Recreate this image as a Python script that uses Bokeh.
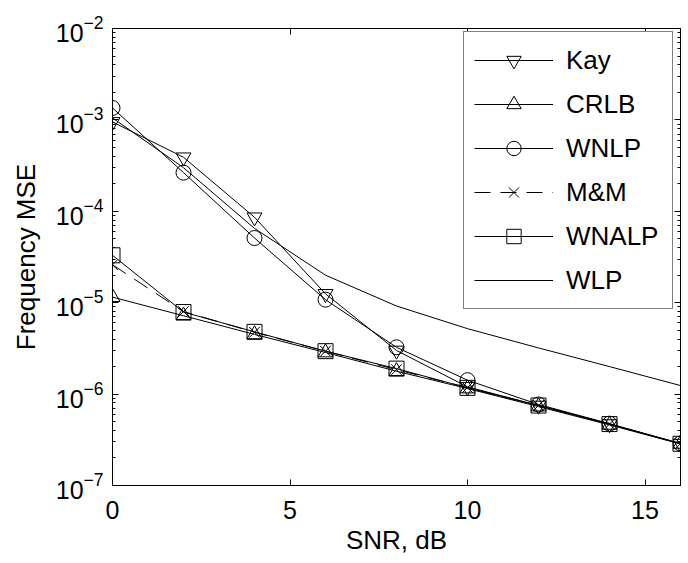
import numpy as np
from bokeh.plotting import figure
from bokeh.models import (Range1d, LinearAxis, LogAxis, Legend, LegendItem,
                          FixedTicker, LogTicker, CustomJSTickFormatter)
from bokeh.embed import file_html
from bokeh.resources import INLINE

# ---- data ----
snr = [0, 2, 4, 6, 8, 10, 12, 14, 16]
kay = [9.5e-4, 3.9e-4, 8.6e-5, 1.25e-5, 3.0e-6, 1.2e-6, 7.5e-7, 4.7e-7, 2.87e-7]
crlb = [1.15e-5, 7.2e-6, 4.5e-6, 2.85e-6, 1.78e-6, 1.15e-6, 7.3e-7, 4.6e-7, 2.85e-7]
wnlp = [1.35e-3, 2.65e-4, 5.1e-5, 1.08e-5, 3.25e-6, 1.42e-6, 7.7e-7, 4.75e-7, 2.88e-7]
mm = [2.6e-5, 8.0e-6, 4.75e-6, 2.95e-6, 1.85e-6, 1.18e-6, 7.5e-7, 4.7e-7, 2.87e-7]
wnalp = [3.3e-5, 7.9e-6, 4.8e-6, 2.95e-6, 1.9e-6, 1.17e-6, 7.5e-7, 4.7e-7, 2.86e-7]
wlp = [1.05e-3, 3.0e-4, 6.5e-5, 2.0e-5, 9.2e-6, 5.2e-6, 3.2e-6, 2.0e-6, 1.24e-6]

series_names = ["Kay", "CRLB", "WNLP", "M&M", "WNALP", "WLP"]
series_values = [kay, crlb, wnlp, mm, wnalp, wlp]
series_markers = ["inverted_triangle", "triangle", "circle", "x", "square", None]
series_dash = ["solid", "solid", "solid", "16 10", "solid", "solid"]

x_ticks = [0, 5, 10, 15]
x_limits = (0, 16)
y_limits = (1e-7, 1e-2)

FONT = "Liberation Sans"
FS = "25px"
FS_LABEL = "26px"

p = figure(frame_width=568, frame_height=457,
           x_range=Range1d(*x_limits), y_range=Range1d(*y_limits),
           y_axis_type="log", output_backend="svg", toolbar_location=None,
           min_border_left=112, min_border_top=28, min_border_right=8,
           min_border_bottom=70)
p.outline_line_color = "black"
p.grid.visible = False

blank = CustomJSTickFormatter(code="return ''")

def style_axis(ax, labels=True):
    ax.axis_line_color = "black"
    ax.axis_line_width = 1
    ax.major_tick_in = 6
    ax.major_tick_out = 0
    ax.minor_tick_in = 3
    ax.minor_tick_out = 0
    ax.major_tick_line_color = "black"
    ax.minor_tick_line_color = "black"
    ax.major_label_text_font = FONT
    ax.major_label_text_font_size = FS
    ax.major_label_text_color = "black"
    ax.axis_label_text_font = FONT
    ax.axis_label_text_font_size = FS_LABEL
    ax.axis_label_text_font_style = "normal"
    ax.axis_label_text_color = "black"
    if not labels:
        ax.formatter = blank
        ax.major_label_standoff = 0

xa = p.xaxis[0]
xa.ticker = FixedTicker(ticks=x_ticks)
style_axis(xa)
xa.minor_tick_in = 0
xa.axis_label = "SNR, dB"
xa.major_label_standoff = 15
xa.axis_label_standoff = 3

ya = p.yaxis[0]
ya.ticker = LogTicker(num_minor_ticks=10)
style_axis(ya)
ya.axis_label = "Frequency MSE"
ya.major_label_standoff = 9
ya.axis_label_standoff = 12

top = LinearAxis(ticker=FixedTicker(ticks=x_ticks))
style_axis(top, labels=False)
top.minor_tick_in = 0
p.add_layout(top, "above")

right = LogAxis(ticker=LogTicker(num_minor_ticks=10))
style_axis(right, labels=False)
p.add_layout(right, "right")

items = []
for name, vals, mk, dash in zip(series_names, series_values, series_markers, series_dash):
    rs = []
    ln = p.line(snr, vals, line_color="black", line_width=1, line_dash=dash)
    rs.append(ln)
    if mk is not None:
        sc = p.scatter(snr, vals, marker=mk, size=15, line_color="black",
                       fill_color=None, line_width=1)
        rs.append(sc)
    items.append(LegendItem(label=name, renderers=rs))

legend = Legend(items=items, location=(351, 176))
legend.label_text_font = FONT
legend.label_text_font_size = FS_LABEL
legend.label_text_color = "black"
legend.glyph_width = 79
legend.glyph_height = 36
legend.label_height = 36
legend.label_width = 96
legend.spacing = 8
legend.padding = 10
legend.margin = 0
legend.label_standoff = 13
legend.border_line_color = "black"
legend.border_line_width = 1
legend.background_fill_color = "white"
legend.background_fill_alpha = 1
p.add_layout(legend, "center")

open("out.html", "w").write(file_html(p, INLINE))
